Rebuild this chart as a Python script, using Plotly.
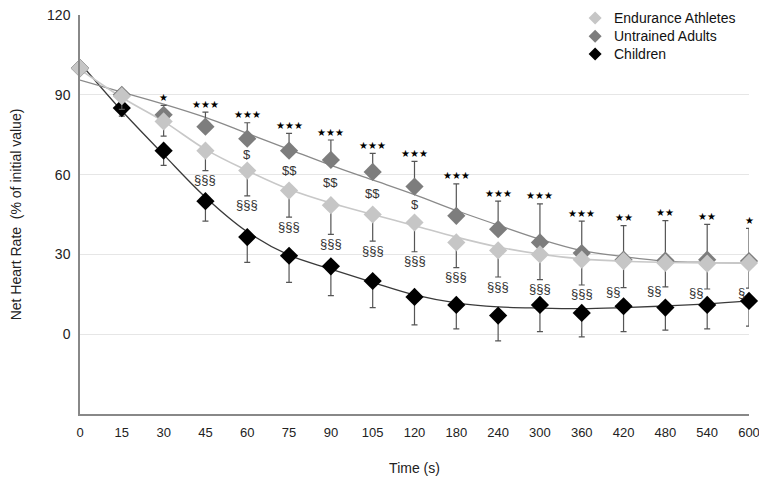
import plotly.graph_objects as go

# time points (categorical axis)
time_labels = ["0", "15", "30", "45", "60", "75", "90", "105", "120",
               "180", "240", "300", "360", "420", "480", "540", "600"]

# mean net heart rate (% of initial value)
endurance = [100, 89.5, 80, 69, 61.5, 54, 48.5, 45, 42, 34.5, 31.5, 30, 28, 27.5, 26.8, 26.5, 26.8]
untrained = [100, 90, 82.5, 78, 73.5, 69, 65.5, 61, 55.5, 44.5, 39.5, 34.5, 30.5, 28, 27.7, 28, 27.5]
children = [100, 85, 69, 50, 36.5, 29.5, 25.5, 20, 14, 11, 7, 11, 8, 10.5, 10, 11, 12.5]

# one-sided SD bars (endurance + children down, untrained up)
endurance_sd = [0, 5, 5.5, 7.5, 9.5, 10, 11, 10, 11, 9.5, 10, 9.5, 9.5, 10, 9, 9.5, 9.5]
untrained_sd = [0, 1.5, 3.5, 5.5, 6, 6.5, 7.5, 7, 9.5, 12, 10.5, 14.5, 12, 12.8, 15, 13.3, 12.3]
children_sd = [0, 3, 5.5, 7.5, 9.5, 10, 11, 10, 10.5, 9, 9.5, 10, 9, 9.5, 8.5, 9, 9.5]

# trend lines
endurance_trend = [99.5, 89, 80, 69.5, 61.5, 54.5, 49.3, 45, 40.8, 36.5, 32.8, 30.1, 28.3, 27.4, 27, 26.8, 26.8]
untrained_trend = [95.5, 91, 86.5, 81.5, 75.5, 69.5, 63.5, 58, 52.5, 46.5, 41, 35.7, 31.4, 29.2, 27.5, 27, 26.8]
children_trend = [102, 84, 67.5, 51.5, 38.5, 29.7, 24.5, 19.5, 14.8, 11.8, 10.3, 9.8, 9.6, 10, 10.6, 11.4, 12.5]

# significance labels
star_labels = ["", "", "★", "★★★", "★★★", "★★★", "★★★", "★★★", "★★★",
               "★★★", "★★★", "★★★", "★★★", "★★", "★★", "★★", "★"]
dollar_labels = ["", "", "", "", "$", "$$", "$$", "$$", "$", "", "", "", "", "", "", "", ""]
section_labels = ["", "", "", "§§§", "§§§", "§§§", "§§§", "§§§", "§§§",
                  "§§§", "§§§", "§§§", "§§§", "§§", "§§", "§§", "§"]

group_names = ["Endurance Athletes", "Untrained Adults", "Children"]

x = list(range(len(time_labels)))

C_END = "#c6c6c6"
C_UNT = "#7d7d7d"
C_CHI = "#000000"
C_BAR = "#555555"

fig = go.Figure()

# trend lines
for trend, col, w in [(children_trend, "#3a3a3a", 1.3),
                      (untrained_trend, "#8a8a8a", 1.3),
                      (endurance_trend, "#c8c8c8", 1.6)]:
    fig.add_trace(go.Scatter(x=x, y=trend, mode="lines", line=dict(color=col, width=w, shape="spline"),
                             showlegend=False, hoverinfo="skip", cliponaxis=False))

fig.add_trace(go.Scatter(x=x, y=children, mode="markers", name=group_names[2], showlegend=False,
                         marker=dict(symbol="diamond", size=14, color=C_CHI),
                         error_y=dict(type="data", symmetric=False, array=[0] * len(x), arrayminus=children_sd,
                                      color=C_BAR, thickness=1.2, width=3),
                         cliponaxis=False))
fig.add_trace(go.Scatter(x=x, y=untrained, mode="markers", name=group_names[1], showlegend=False,
                         marker=dict(symbol="diamond", size=14, color=C_UNT),
                         error_y=dict(type="data", symmetric=False, array=untrained_sd, arrayminus=[0] * len(x),
                                      color=C_BAR, thickness=1.2, width=3),
                         cliponaxis=False))
fig.add_trace(go.Scatter(x=x, y=endurance, mode="markers", name=group_names[0], showlegend=False,
                         marker=dict(symbol="diamond", size=14, color=C_END),
                         error_y=dict(type="data", symmetric=False, array=[0] * len(x), arrayminus=endurance_sd,
                                      color=C_BAR, thickness=1.2, width=3),
                         cliponaxis=False))

# legend (compact, drawn on an overlay axis spanning the plot area)
leg_x = 0.770
leg_y = [0.9925, 0.947, 0.902]
fig.add_trace(go.Scatter(x=[leg_x] * 3, y=leg_y, mode="markers", xaxis="x2", yaxis="y2",
                         marker=dict(symbol="diamond", size=10, color=[C_END, C_UNT, C_CHI]),
                         showlegend=False, hoverinfo="skip", cliponaxis=False))

annotations = []
for name, ly in zip(group_names, leg_y):
    annotations.append(dict(x=0.795, y=ly, xref="paper", yref="paper", text=name, showarrow=False,
                            xanchor="left", yanchor="middle", font=dict(size=14, color="#111")))

for i in x:
    if star_labels[i]:
        annotations.append(dict(x=i, y=untrained[i] + untrained_sd[i], text=star_labels[i], showarrow=False,
                                yanchor="middle", yshift=8, font=dict(size=10, color="#000")))
    if dollar_labels[i]:
        annotations.append(dict(x=i, y=(untrained[i] + endurance[i]) / 2, text=dollar_labels[i], showarrow=False,
                                yanchor="middle", font=dict(size=13, color="#333")))
    if section_labels[i]:
        if i < 13:
            annotations.append(dict(x=i, y=endurance[i] - endurance_sd[i], text=section_labels[i], showarrow=False,
                                    yanchor="middle", yshift=-9, font=dict(size=13, color="#333")))
        else:
            annotations.append(dict(x=i, y=endurance[i] - endurance_sd[i], text=section_labels[i], showarrow=False,
                                    xanchor="right", xshift=-2, yanchor="middle", yshift=-4,
                                    font=dict(size=13, color="#333")))

fig.update_layout(
    width=751, height=468,
    margin=dict(l=72, r=10, t=7, b=62),
    plot_bgcolor="white", paper_bgcolor="white",
    font=dict(family="Liberation Sans, Arial, sans-serif", size=13, color="#222"),
    annotations=annotations,
    showlegend=False,
    xaxis2=dict(overlaying="x", range=[0, 1], visible=False, fixedrange=True),
    yaxis2=dict(overlaying="y", range=[0, 1], visible=False, fixedrange=True),
)
fig.update_layout(xaxis=dict(range=[0, 16], tickvals=x, ticktext=time_labels, showgrid=False, zeroline=False,
                             showline=True, linecolor="#888", linewidth=1.5, ticks="", ticklabelstandoff=6,
                             automargin=False, ticklabeloverflow="allow",
                             title=dict(text="Time (s)", font=dict(size=14), standoff=24)),
                  yaxis=dict(range=[-30, 120], tickvals=[0, 30, 60, 90, 120], showgrid=True, gridcolor="#e6e6e6",
                             zeroline=False, showline=True, linecolor="#888", linewidth=1.5, ticks="",
                             ticklabelstandoff=5, tickfont=dict(size=14), automargin=False,
                             ticklabeloverflow="allow",
                             title=dict(text="Net Heart Rate  (% of initial value)", font=dict(size=14),
                                        standoff=23)))

fig.write_html("out.html")
